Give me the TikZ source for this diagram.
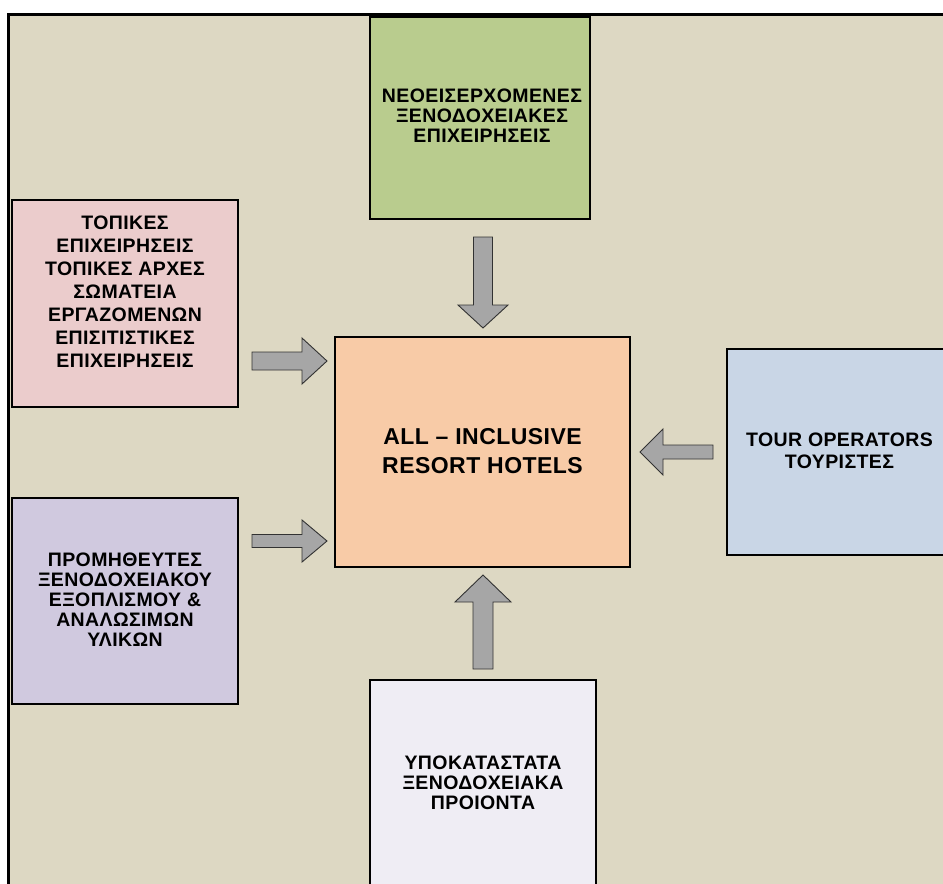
\documentclass[tikz,border=0pt]{standalone}
\usepackage{fontspec}
\setmainfont{Liberation Sans}
\newfontfamily\lblfont{Liberation Sans}[LetterSpace=2]
\newfontfamily\mainlbl{Liberation Sans}[LetterSpace=2]
\definecolor{bgc}{RGB}{221,216,195}
\definecolor{greenc}{RGB}{185,204,142}
\definecolor{pinkc}{RGB}{235,204,204}
\definecolor{purplec}{RGB}{208,201,223}
\definecolor{peachc}{RGB}{248,203,167}
\definecolor{bluec}{RGB}{201,214,230}
\definecolor{lavc}{RGB}{239,237,244}
\definecolor{arrowc}{RGB}{166,166,166}
\definecolor{arrowline}{RGB}{50,50,50}
\newcommand\blockarr[8]{%
  \draw[blockarrow, shift={(#2,#3)}, rotate=#4] (0,0) coordinate (#1) -- (-#8,#7) -- (-#8,#6) -- (-#5,#6) -- (-#5,-#6) -- (-#8,-#6) -- (-#8,-#7) -- cycle;}
\begin{document}
\begin{tikzpicture}[x=1pt,y=-1pt,
  box/.style={draw=black, line width=1.5pt, inner sep=0pt, align=center, anchor=center},
  lbl/.style={align=center, font=\lblfont\bfseries\fontsize{19.5}{20}\selectfont},
  blockarrow/.style={fill=arrowc, draw=arrowline, line width=0.9pt, line join=miter}]
\useasboundingbox (0,0) rectangle (943,884);
\clip (0,0) rectangle (943,884);
\fill[white] (0,0) rectangle (943,884);
\fill[bgc] (8,14) rectangle (960,900);
\draw[line width=3pt] (8,900) -- (8,14) -- (960,14);

\node[box, fill=greenc, minimum width=220pt, minimum height=202pt] (top) at (480,118) {};
\node[lbl] (toptxt) at (482,116) {ΝΕΟΕΙΣΕΡΧΟΜΕΝΕΣ\\ΞΕΝΟΔΟΧΕΙΑΚΕΣ\\ΕΠΙΧΕΙΡΗΣΕΙΣ};

\node[box, fill=pinkc, minimum width=226pt, minimum height=207pt] (lt) at (125,303.5) {};
\node[lbl, font=\lblfont\bfseries\fontsize{19.5}{23}\selectfont] (lttxt) at (125,291.5) {ΤΟΠΙΚΕΣ\\ΕΠΙΧΕΙΡΗΣΕΙΣ\\ΤΟΠΙΚΕΣ ΑΡΧΕΣ\\ΣΩΜΑΤΕΙΑ\\ΕΡΓΑΖΟΜΕΝΩΝ\\ΕΠΙΣΙΤΙΣΤΙΚΕΣ\\ΕΠΙΧΕΙΡΗΣΕΙΣ};

\node[box, fill=purplec, minimum width=226pt, minimum height=206pt] (lb) at (125,601) {};
\node[lbl] (lbtxt) at (125,600) {ΠΡΟΜΗΘΕΥΤΕΣ\\ΞΕΝΟΔΟΧΕΙΑΚΟΥ\\ΕΞΟΠΛΙΣΜΟΥ \&\\ΑΝΑΛΩΣΙΜΩΝ\\ΥΛΙΚΩΝ};

\node[box, fill=peachc, minimum width=295pt, minimum height=230pt] (ctr) at (482.5,452) {};
\node[align=center, font=\mainlbl\bfseries\fontsize{23}{28.5}\selectfont] (ctrtxt) at (482.5,451) {ALL – INCLUSIVE\\RESORT HOTELS};

\node[box, fill=bluec, minimum width=226pt, minimum height=206pt] (rt) at (840,452) {};
\node[lbl, font=\lblfont\bfseries\fontsize{19.5}{21.7}\selectfont] (rttxt) at (839.5,451) {TOUR OPERATORS\\ΤΟΥΡΙΣΤΕΣ};

\node[box, fill=lavc, minimum width=226pt, minimum height=206pt] (bt) at (483,783) {};
\node[lbl] (bttxt) at (483,783) {ΥΠΟΚΑΤΑΣΤΑΤΑ\\ΞΕΝΟΔΟΧΕΙΑΚΑ\\ΠΡΟΙΟΝΤΑ};

\blockarr{atop}{483}{328}{-90}{91}{9.5}{25}{23}
\blockarr{alt}{327}{361}{0}{75}{9}{23}{25}
\blockarr{alb}{327}{541}{0}{75}{6.5}{21}{25}
\blockarr{art}{640}{452}{180}{73}{7}{23}{23}
\blockarr{abt}{483}{575}{90}{94}{10}{28}{27}
\end{tikzpicture}
\end{document}
